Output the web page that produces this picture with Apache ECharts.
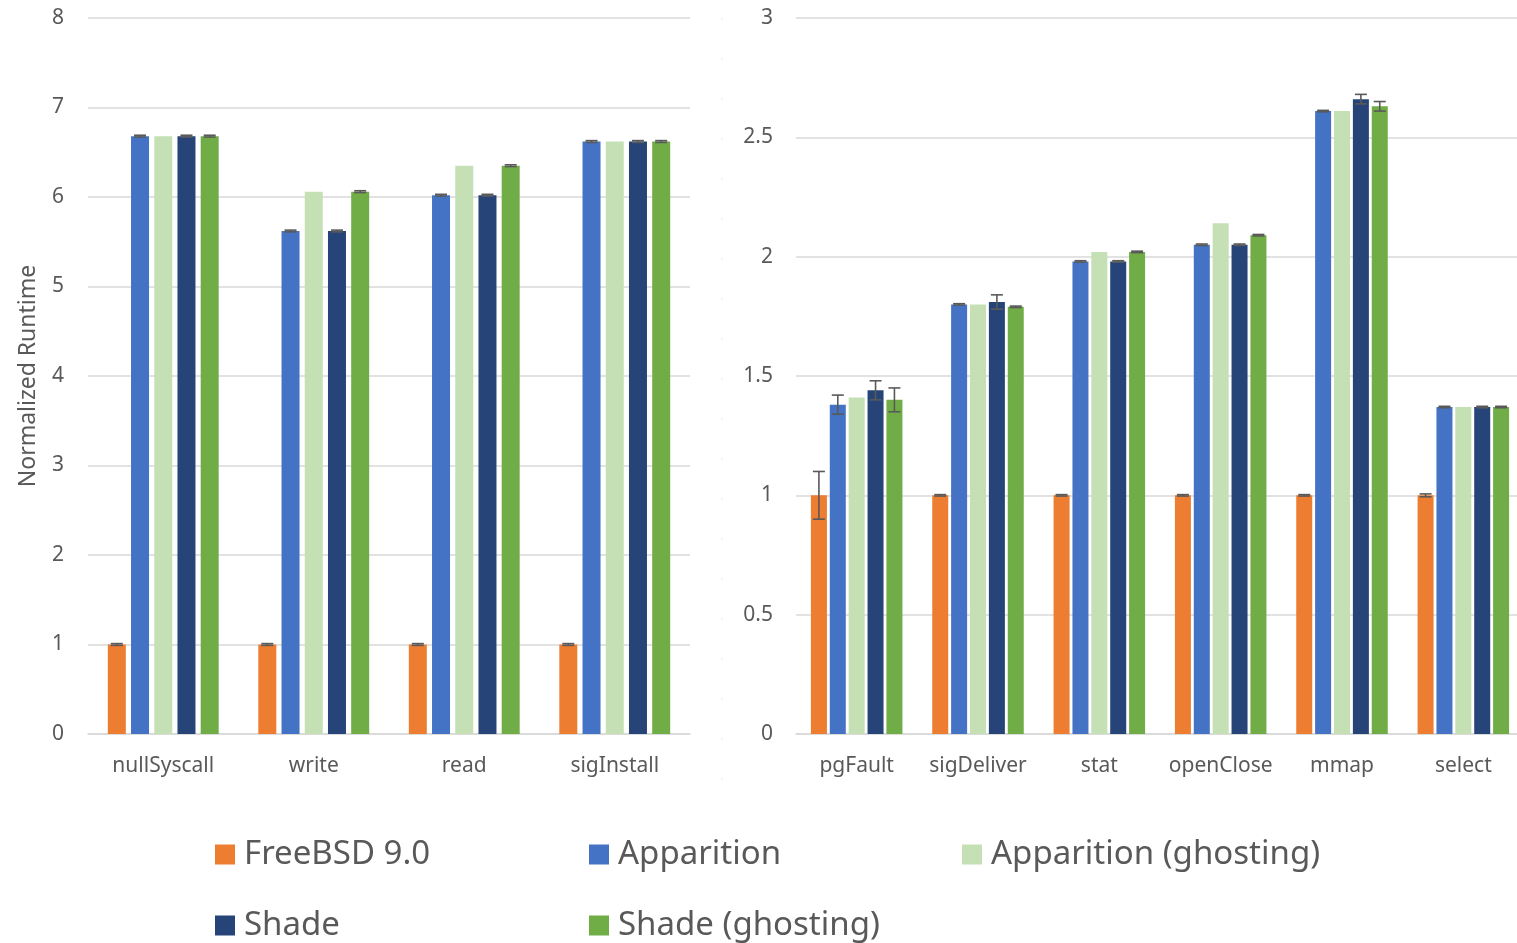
<!DOCTYPE html>
<html>
<head>
<meta charset="utf-8">
<script src="https://cdn.jsdelivr.net/npm/echarts@6/dist/echarts.min.js"></script>
<style>html,body{margin:0;padding:0;background:#fff;overflow:hidden}#c{width:1530px;height:943px}</style>
</head>
<body>
<div id="c"></div>
<script>
const seriesNames = ['FreeBSD 9.0', 'Apparition', 'Apparition (ghosting)', 'Shade', 'Shade (ghosting)'];
const colors = ['#ED7D31', '#4472C4', '#C5E0B4', '#264478', '#70AD47'];

const categoriesLeft = ['nullSyscall', 'write', 'read', 'sigInstall'];
const freebsdLeft = [1, 1, 1, 1];
const apparitionLeft = [6.68, 5.62, 6.02, 6.62];
const apparitionGhostLeft = [6.68, 6.06, 6.35, 6.62];
const shadeLeft = [6.68, 5.62, 6.02, 6.62];
const shadeGhostLeft = [6.68, 6.06, 6.35, 6.62];
const freebsdLeftErr = [0.01, 0.01, 0.01, 0.01];
const apparitionLeftErr = [0.01, 0.01, 0.01, 0.01];
const shadeLeftErr = [0.01, 0.01, 0.01, 0.01];
const shadeGhostLeftErr = [0.01, 0.01, 0.01, 0.01];

const categoriesRight = ['pgFault', 'sigDeliver', 'stat', 'openClose', 'mmap', 'select'];
const freebsdRight = [1, 1, 1, 1, 1, 1];
const apparitionRight = [1.38, 1.80, 1.98, 2.05, 2.61, 1.37];
const apparitionGhostRight = [1.41, 1.80, 2.02, 2.14, 2.61, 1.37];
const shadeRight = [1.44, 1.81, 1.98, 2.05, 2.66, 1.37];
const shadeGhostRight = [1.40, 1.79, 2.02, 2.09, 2.63, 1.37];
const freebsdRightErr = [0.10, 0.003, 0.003, 0.003, 0.003, 0.006];
const apparitionRightErr = [0.04, 0.003, 0.003, 0.003, 0.003, 0.003];
const shadeRightErr = [0.04, 0.03, 0.003, 0.003, 0.02, 0.003];
const shadeGhostRightErr = [0.05, 0.003, 0.003, 0.003, 0.02, 0.003];

const leftTicks = { min: 0, max: 8, interval: 1 };
const rightTicks = { min: 0, max: 3, interval: 0.5 };

const FONT = '"Segoe UI", "Noto Sans", "Open Sans", sans-serif';
const TXT = '#595959';

const leftSets = [freebsdLeft, apparitionLeft, apparitionGhostLeft, shadeLeft, shadeGhostLeft];
const leftErrs = [freebsdLeftErr, apparitionLeftErr, null, shadeLeftErr, shadeGhostLeftErr];
const rightSets = [freebsdRight, apparitionRight, apparitionGhostRight, shadeRight, shadeGhostRight];
const rightErrs = [freebsdRightErr, apparitionRightErr, null, shadeRightErr, shadeGhostRightErr];

const LBW = 18, LGAP = 0.29;
const RBW = 16, RGAP = 0.18;

function errRender(idx, step) {
  return function (params, api) {
    const c = api.value(0), v = api.value(1), e = api.value(2);
    const hi = api.coord([c, v + e]);
    const lo = api.coord([c, v - e]);
    const x = hi[0] + (idx - 2) * step;
    const half = 6;
    const st = { stroke: '#595959', lineWidth: 1.6 };
    return {
      type: 'group',
      children: [
        { type: 'line', shape: { x1: x, y1: hi[1], x2: x, y2: lo[1] }, style: st },
        { type: 'line', shape: { x1: x - half, y1: hi[1], x2: x + half, y2: hi[1] }, style: st },
        { type: 'line', shape: { x1: x - half, y1: lo[1], x2: x + half, y2: lo[1] }, style: st }
      ]
    };
  };
}

const series = [];
function addSide(sets, errs, axisIdx, bw, gap) {
  sets.forEach((d, i) => {
    series.push({
      name: seriesNames[i], type: 'bar', xAxisIndex: axisIdx, yAxisIndex: axisIdx,
      data: d, barWidth: bw, barGap: (gap * 100) + '%',
      itemStyle: { color: colors[i] }, z: 2
    });
  });
  errs.forEach((e, i) => {
    if (!e) return;
    series.push({
      name: 'err' + axisIdx + '_' + i, type: 'custom', xAxisIndex: axisIdx, yAxisIndex: axisIdx,
      renderItem: errRender(i, bw * (1 + gap)),
      data: sets[i].map((v, k) => [k, v, e[k]]),
      encode: { x: 0, y: 1 }, z: 5, silent: true
    });
  });
}
addSide(leftSets, leftErrs, 0, LBW, LGAP);
addSide(rightSets, rightErrs, 1, RBW, RGAP);

function xAxis(cats, gi) {
  return {
    type: 'category', gridIndex: gi, data: cats,
    axisTick: { show: false },
    axisLine: { lineStyle: { color: '#d9d9d9', width: 1.5 } },
    axisLabel: { color: TXT, fontSize: 21, fontFamily: FONT, margin: 22, interval: 0 }
  };
}
function yAxis(t, gi, extra) {
  return Object.assign({
    type: 'value', gridIndex: gi, min: t.min, max: t.max, interval: t.interval,
    axisLine: { show: false }, axisTick: { show: false },
    splitLine: { lineStyle: { color: '#d9d9d9', width: 1.5 } },
    axisLabel: { color: TXT, fontSize: 21, fontFamily: FONT, margin: 24 }
  }, extra || {});
}

const legendPos = [[215, 838], [589, 838], [962, 838], [215, 909], [589, 909]];
const legends = seriesNames.map((n, i) => ({
  data: [n], left: legendPos[i][0], top: legendPos[i][1], padding: 0,
  icon: 'rect', itemWidth: 20, itemHeight: 20, selectedMode: false,
  textStyle: { color: TXT, fontSize: 33, fontFamily: FONT, padding: [0, 0, 0, 4] }
}));

const chart = echarts.init(document.getElementById('c'), null, { renderer: 'canvas' });
chart.setOption({
  animation: false,
  backgroundColor: '#fff',
  grid: [
    { left: 88, width: 602, top: 18, bottom: 209 },
    { left: 796, width: 728, top: 18, bottom: 209 }
  ],
  xAxis: [xAxis(categoriesLeft, 0), xAxis(categoriesRight, 1)],
  yAxis: [
    yAxis(leftTicks, 0, {
      name: 'Normalized Runtime', nameLocation: 'middle', nameGap: 48, nameRotate: 90,
      nameTextStyle: { color: TXT, fontSize: 23, fontFamily: FONT }
    }),
    yAxis(rightTicks, 1, { axisLabel: { color: TXT, fontSize: 21, fontFamily: FONT, margin: 23 } })
  ],
  legend: legends,
  graphic: [
    { type: 'line', shape: { x1: 722, y1: 18, x2: 722, y2: 780 },
      style: { stroke: '#e6e6e6', lineWidth: 1, lineDash: [2, 38] }, silent: true }
  ],
  series: series
});
</script>
</body>
</html>
